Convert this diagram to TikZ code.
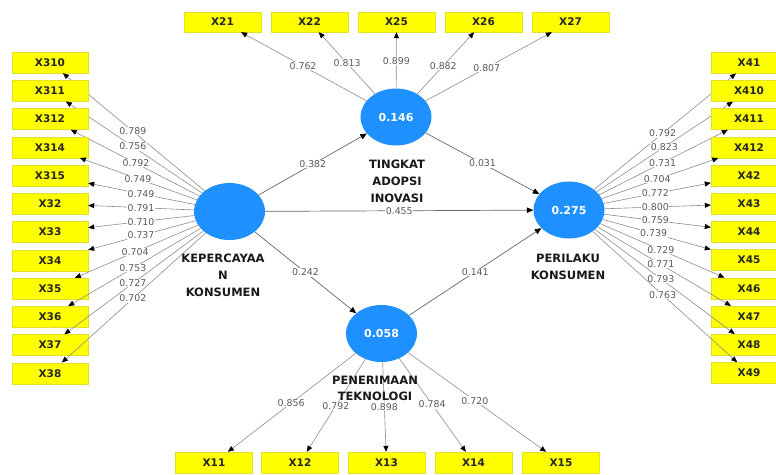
\documentclass[tikz,border=0pt]{standalone}
\usepackage{fontspec}
\setmainfont{DejaVu Sans}
\usetikzlibrary{arrows.meta,calc,shapes.geometric}
\definecolor{lvblue}{RGB}{30,144,255}
\definecolor{mvyellow}{RGB}{255,255,0}
\definecolor{mvedge}{RGB}{225,225,40}
\begin{document}
\begin{tikzpicture}[x=1pt,y=-1pt,
  lv/.style={ellipse,fill=lvblue,minimum width=71pt,minimum height=57pt,inner sep=0pt,text=white,font=\bfseries\fontsize{11}{13}\selectfont},
  mv/.style={rectangle,fill=mvyellow,draw=mvedge,line width=0.4pt,minimum width=76pt,minimum height=21pt,inner sep=0pt,text=black!85,font=\bfseries\fontsize{10.5}{12}\selectfont},
  ld/.style={draw=black!45,line width=0.6pt,-{Triangle[length=6pt,width=5pt,color=black]}},
  sa/.style={draw=black!60,line width=0.7pt,-{Triangle[length=6.5pt,width=5.5pt,color=black]}},
  lbl/.style={fill=white,inner sep=0.6pt,text=black!65,font=\fontsize{9.4}{10}\selectfont},
  nm/.style={align=center,text=black!90,font=\bfseries\fontsize{11.5}{17}\selectfont}]
\useasboundingbox (0,0) rectangle (776,474);
\clip (0,0) rectangle (776,474);
% latent variables
\node[lv] (kep) at (229.5,211.5) {};
\node[lv] (tin) at (396,117) {0.146};
\node[lv] (per) at (569,210) {0.275};
\node[lv] (pen) at (381.5,333.5) {0.058};
% structural paths
\draw[sa] (kep) -- node[lbl] {0.382} (tin);
\draw[sa] (tin) -- node[lbl] {0.031} (per);
\draw[sa] (kep) -- node[lbl] {0.455} (per);
\draw[sa] (kep) -- node[lbl] {0.242} (pen);
\draw[sa] (pen) -- node[lbl] {0.141} (per);
% left indicators
\foreach \n/\y/\v/\t in {310/62.5/0.789/0.538, 311/90.75/0.756/0.538, 312/119/0.792/0.521, 314/147.25/0.749/0.51, 315/175.5/0.749/0.493, 32/203.75/0.791/0.493, 33/232/0.710/0.493, 34/260.25/0.737/0.493, 35/288.5/0.704/0.526, 36/316.75/0.753/0.538, 37/345/0.727/0.538, 38/373.25/0.702/0.538}{
  \node[mv] (x\n) at (50,\y) {X\n};
  \draw[ld] (kep) -- (x\n);
  \node[lbl] at ($(kep.center)!\t!(x\n.center)$) {\v};
}
% right indicators
\foreach \n/\y/\v/\t in {41/62.75/0.792/0.52, 410/90.95/0.823/0.53, 411/119.15/0.731/0.52, 412/147.35/0.704/0.49, 42/175.55/0.772/0.48, 43/203.75/0.800/0.48, 44/231.95/0.759/0.48, 45/260.15/0.739/0.47, 46/288.35/0.729/0.51, 47/316.55/0.771/0.51, 48/344.75/0.793/0.51, 49/372.95/0.763/0.52}{
  \node[mv] (x\n) at (749,\y) {X\n};
  \draw[ld] (per) -- (x\n);
  \node[lbl] at ($(per.center)!\t!(x\n.center)$) {\v};
}
% top indicators
\foreach \n/\x/\v/\t in {21/222.5/0.762/0.536, 22/309.5/0.813/0.566, 25/396.5/0.899/0.59, 26/483.5/0.882/0.54, 27/570.5/0.807/0.52}{
  \node[mv,minimum width=77pt,minimum height=20pt] (x\n) at (\x,22) {X\n};
  \draw[ld] (tin) -- (x\n);
  \node[lbl] at ($(tin.center)!\t!(x\n.center)$) {\v};
}
% bottom indicators
\foreach \n/\x/\v/\t in {11/214/0.856/0.54, 12/300/0.792/0.56, 13/386.5/0.898/0.57, 14/473.5/0.784/0.55, 15/561/0.720/0.52}{
  \node[mv,minimum width=77pt] (x\n) at (\x,462.5) {X\n};
  \draw[ld] (pen) -- (x\n);
  \node[lbl] at ($(pen.center)!\t!(x\n.center)$) {\v};
}
% construct names
\node[nm] (nkep) at (223,275) {KEPERCAYAA\\N\\KONSUMEN};
\node[nm] (ntin) at (397,181) {TINGKAT\\ADOPSI\\INOVASI};
\node[nm] (nper) at (568,266.5) {PERILAKU\\KONSUMEN};
\node[nm,font=\bfseries\fontsize{11.5}{16}\selectfont] (npen) at (375,388) {PENERIMAAN\\TEKNOLOGI};
\end{tikzpicture}
\end{document}
